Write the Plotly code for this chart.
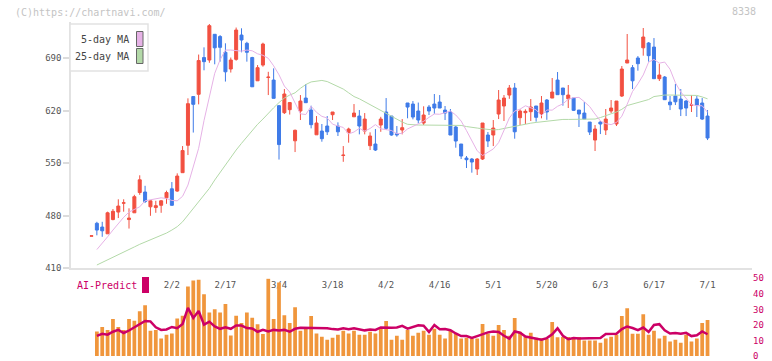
import plotly.graph_objects as go

# ---------------- data ----------------
idx = list(range(116))
opens = [452.8,470,465,456,475,485,496.8,475,484,511,511.7,492,491,494,504,516,513,537.5,574,639,
         642,691,687.7,722,719,698,675.7,688.6,721,710,691,660,681,664.4,661,626.8,617.5,621.5,580,619.7,
         637,621,588,593,599.7,614.8,599.7,560.4,590.8,612,613,593,573.5,575.7,601,618.4,613,589.5,594.4,630.4,
         629,619.7,603.7,625,629,631.7,621,618.4,598.4,575.7,557,555.7,542.4,555.7,587.7,587.7,615.7,626.4,641,650.4,
         610.8,617.5,618.8,626.4,615.7,634.4,637,661,650.4,636,637,621,617,605,581,605,594.4,619.7,602.4,639.7,
         683.7,677.5,690.4,704,710.4,705,662.8,665,631.7,639.7,635.7,633,627.4,635.7,630.4,613]
highs = [453.3,472,472,485.5,489,502,502,490,508,534,520,501,500,501,513.5,525,536.6,573,636.6,639,
         695,704.6,735.7,722,721,710,691,731,730,712,692,681,710.8,672,676.6,627.7,649,631,595,641,
         655.7,626.8,613,602.4,613,618.4,604.6,573,597.5,629,621,617,591.3,595.7,612,637,613,599.7,609,630.4,
         633,631,626,627.7,642.4,641,626.4,622.4,599.7,575.7,559.7,557,557,603.7,591.7,607.7,647.7,641,654.4,657,
         622,622,635.7,626.4,639.7,635.7,663.7,671.7,650.4,654.4,637,621,631.7,605,601,606.4,622.4,634.4,633,679.7,
         722.4,681,693,730.4,711.7,717,682.8,666.4,639.7,655.7,649,634.4,641,639.7,637,621]
lows = [452.8,454,452,456,474,477,485.5,463,484,508,497,480,484,484,496,493.5,512,537.5,561,591,
        628.6,674,684,682,685.5,659,671,686.8,698,685.5,652,660,678.8,641,636.6,555,615.7,615,565,607.7,
        630.8,596.6,588,578.8,587.7,607.7,586.4,552,577.5,612,588.6,588.6,567.7,566.4,592,594.4,586.8,585.5,588.6,610,
        608.6,603.3,601,614.4,616,623.7,607.7,587.7,570.8,555.7,543.7,537.5,534.4,554.4,571.7,573,609,606.4,636,582.8,
        601,602.4,606.4,605.5,610,608,637,641.5,626.8,623.7,619.7,598.4,609,587.7,566.4,589,587.7,617,599.7,638.4,
        683.7,649,673.5,693.5,685.5,662.8,659.7,634.4,621,627.7,613,613,618.4,611.7,607.7,581]
closes = [453.3,461,460,484,486,493,497.3,477,505.5,528,499,500,493.5,500,511,494,533,567,629.5,628.6,
          687,685.5,733.5,704,704.6,672,687.7,727.7,714.4,698,652,677.5,709,664.9,636.6,575,642.4,631,594,633,
          630.8,601.5,603.7,582.8,592,618.4,592,560.9,595.7,617,599.7,609,586.4,567.7,609,596.6,587.7,588,597.5,625,
          611.7,607.7,614.4,619.7,623.7,623.7,617,587.7,579.7,559.7,554.8,551.7,555.7,603.7,579.7,597,634.4,637,650.4,592,
          619.7,619.3,625,611.3,630.4,618.4,645,641.5,641.5,641,620.6,615.7,609,591.7,595.7,602.4,609,623.7,633,675.7,
          687.7,660,682.8,718.4,693.5,662.8,667.7,634.8,628,632,622.4,623.7,627.9,627.7,609,583.7]

ma5 = [None,435,443,452,461,470,478,485,488,492,500,501.5,502,504,503,500.5,500,506,521,547,
       570,607,640,670,688,701,701,700,699.5,701,700,696,694,690,680,668,653,645,630,616,
       615,626,618,612.6,610.4,602.2,599.7,597.8,589.2,591.7,596.7,593,596.4,601.6,596,594.4,593.7,589.5,589.8,595.8,
       599,602,606,611.3,615.7,615.4,617.8,619.7,614.4,606.4,593.6,579.8,566.7,560.3,565.1,569.1,577.6,594.1,610.4,619.7,
       622.2,626.7,623.7,621.3,613.5,621.1,620.9,626,629.3,635.4,637.5,637.9,632.1,625.6,615.6,606.5,602.9,601.6,604.5,612.8,
       628.8,645.8,656,667.8,684.9,688.5,683.5,685,675.4,657.4,645.1,637,628.2,626.8,626.7,618]
ma25 = [None,414.4,418,421.5,425,428,431.5,435,438.5,442,445,447.5,450,453,457,461,465.5,472,481,490,
        499.7,507.7,516.6,527.7,538,547,557.5,567.7,576.6,585.5,594,602,609,617,624,631,637,641,644,650,
        655,658.5,660,660.5,659,656,653,649,644,639,636,632,629,625,620,616,613,609,605,602,
        601,601,601,601,601,601,601,601,601,600.5,599,597.5,597,596,595,594.5,595,596.5,598,600,
        601.5,602.5,603.5,604.5,605.5,606.5,607,608,608.5,608.5,608.5,608.5,608.5,608.5,609,611,614,616,618.5,622,
        627,629,630.5,632,635,639,640.5,641,641,641,641,641,641,640.5,638.5,636]

sub_idx = list(range(1, 116))
bars = [15.8,18.7,16.8,23.8,18.7,16.8,23.8,22.7,28.8,32.6,16.2,16.8,11.2,13.7,14.5,24.2,25.9,44.8,48.6,49,
        39.7,28,30.1,28,33.4,13.2,25.9,21.3,28,24.6,20.4,14.1,49.7,23.8,47.3,26.3,21.3,31.4,16.2,17.5,
        25.8,14.5,12.4,10.5,11.8,13.7,16.2,14.5,16.2,13.7,13.7,15.6,14.5,17.5,22.5,10.5,13.1,10.5,16.8,13.1,
        15,16.2,13.7,17.5,13.7,11.2,16.2,14.5,11.2,11.8,11.2,11.2,20.6,14.5,13.1,20,16.8,13.1,24.4,15.6,
        12.4,15,11.8,11.5,11,21.9,12,12.2,12.2,12.2,12.2,9.9,9.9,9.9,8.6,11.2,12.4,13.7,25.7,30.7,
        14.3,14.3,26.9,13.7,16.2,11.2,13.1,9.3,10.5,8.6,13.7,9.3,11.2,21.3,23.2]
ai_pred = [13,14.3,13.7,15.6,16.8,14.8,16.4,18.5,20.6,22.5,22.3,18.5,16.8,17.1,18.7,17.9,20.6,31,24.5,29,
           20.2,22.1,19,17.5,18.5,17.5,19.6,19.6,18,17.7,15.6,16.8,15.8,16.8,16.4,16.8,15.6,17.5,18.1,18.1,
           18.1,18.1,18.1,17.9,17.3,17,17.9,17.3,17.8,17.2,16.5,17,16.8,18.4,18.1,18.1,18.3,19.4,17.6,18.6,
           19.8,19.5,15.5,20,17.2,17.4,16.6,14.5,12.8,12.8,11.6,12.8,14,15.2,15.8,15.5,13,11.2,15.8,15,
           12.5,11.8,11.5,10.5,11.5,14,17.8,13,10.8,11.6,11.2,11.2,11.2,11.3,11.6,14.2,14.3,14.3,17.3,19,
           18,16.6,18.3,15.5,20,20.5,16.5,14.5,14.8,14.3,14.9,12.8,13.3,15.8,14]

tick_pos = [15, 25, 35, 45, 55, 65, 75, 85, 95, 105, 115]
tick_text = ["2/2", "2/17", "3/4", "3/18", "4/2", "4/16", "5/1", "5/20", "6/3", "6/17", "7/1"]
price_ticks = [410, 480, 550, 620, 690]
sub_ticks = [0, 10, 20, 30, 40, 50]

# ---------------- styling ----------------
RED = "#f25041"
BLUE = "#3f7be8"
PINK = "#e6b2e6"
GREEN = "#b3d9a8"
ORANGE = "#f0963c"
CRIMSON = "#cc0066"
MONO = "DejaVu Sans Mono"

W, H = 772, 361
L, R, T, B = 71, 20, 22, 5
pw, ph = W - L - R, H - T - B

def px(x):
    return (x - L) / pw

def py(y):
    return (H - B - y) / ph

fig = go.Figure()
fig.add_trace(go.Scatter(x=idx, y=ma25, mode="lines", line=dict(color=GREEN, width=1),
                         xaxis="x", yaxis="y", hoverinfo="skip"))
fig.add_trace(go.Scatter(x=idx, y=ma5, mode="lines", line=dict(color=PINK, width=1),
                         xaxis="x", yaxis="y", hoverinfo="skip"))
fig.add_trace(go.Candlestick(x=idx, open=opens, high=highs, low=lows, close=closes,
                             increasing=dict(line=dict(color=RED, width=1), fillcolor=RED),
                             decreasing=dict(line=dict(color=BLUE, width=1), fillcolor=BLUE),
                             whiskerwidth=0, xaxis="x", yaxis="y"))
fig.add_trace(go.Bar(x=sub_idx, y=bars, marker=dict(color=ORANGE, line=dict(width=0)),
                     xaxis="x2", yaxis="y2"))
fig.add_trace(go.Scatter(x=sub_idx, y=ai_pred, mode="lines", line=dict(color=CRIMSON, width=2.5),
                         xaxis="x2", yaxis="y2"))

xr = [-3.83, 123.3]
main_bottom = py(268.3)
sub_top = py(278.3)

fig.update_layout(
    width=W, height=H,
    margin=dict(l=L, r=R, t=T, b=B, autoexpand=False),
    paper_bgcolor="white", plot_bgcolor="white",
    showlegend=False,
    bargap=0.3,
    boxgap=0.2,
    font=dict(family=MONO, size=9, color="#555"),
    xaxis=dict(domain=[0, 1], range=xr, anchor="y", showgrid=False, zeroline=False, automargin=False,
               showline=True, linecolor="#e2e2e2", linewidth=1.5,
               tickmode="array", tickvals=tick_pos, ticktext=tick_text, ticks="",
               ticklabelstandoff=7, tickfont=dict(family=MONO, size=9, color="#555"),
               rangeslider=dict(visible=False)),
    xaxis2=dict(domain=[0, 1], range=xr, anchor="y2", matches="x", visible=False, automargin=False),
    xaxis3=dict(overlaying="x", anchor="y", range=[0, 11], tickmode="array", automargin=False,
                tickvals=list(range(1, 12)), ticks="outside", ticklen=5, tickcolor="#dcdcdc",
                tickwidth=1.5, showticklabels=False, showline=False, showgrid=False, zeroline=False),
    yaxis=dict(domain=[main_bottom, 1], range=[410, 738.4], anchor="x", showgrid=False, zeroline=False,
               showline=True, linecolor="#e2e2e2", linewidth=1.5, automargin=False,
               tickmode="array", tickvals=price_ticks, ticks="outside", ticklen=6, tickcolor="#dcdcdc",
               tickwidth=1.5, tickfont=dict(family=MONO, size=9, color="#555")),
    yaxis2=dict(domain=[0, sub_top], range=[0, 50], anchor="x2", side="right", showgrid=False,
                zeroline=False, showline=False, tickmode="array", tickvals=sub_ticks, ticks="",
                automargin=False, ticklabeloverflow="allow",
                tickfont=dict(family=MONO, size=9, color=CRIMSON)),
)

shapes = [
    dict(type="rect", xref="paper", yref="paper", x0=px(70), x1=px(148), y0=py(71), y1=py(24),
         fillcolor="white", line=dict(color="#e2e2e2", width=1.5), layer="above"),
    dict(type="rect", xref="paper", yref="paper", x0=px(136.5), x1=px(143), y0=py(46.5), y1=py(31.5),
         fillcolor=PINK, line=dict(color="#666", width=1), layer="above"),
    dict(type="rect", xref="paper", yref="paper", x0=px(136.5), x1=px(143), y0=py(63.5), y1=py(48.5),
         fillcolor=GREEN, line=dict(color="#666", width=1), layer="above"),
    dict(type="rect", xref="paper", yref="paper", x0=px(142), x1=px(149), y0=py(293), y1=py(277),
         fillcolor=CRIMSON, line=dict(width=0), layer="above"),
]
annos = [
    dict(text="5-day MA", x=px(131), y=py(39.5), xanchor="right", yanchor="middle"),
    dict(text="25-day MA", x=px(131), y=py(56), xanchor="right", yanchor="middle"),
]
ann = []
for a in annos:
    a.update(xref="paper", yref="paper", showarrow=False, font=dict(family=MONO, size=10, color="#444"))
    ann.append(a)
ann.append(dict(text="AI-Predict", x=px(75), y=py(285.5), xref="paper", yref="paper", xanchor="left",
                yanchor="middle", showarrow=False, font=dict(family=MONO, size=10, color=CRIMSON)))
ann.append(dict(text="(C)https://chartnavi.com/", x=px(13), y=py(12.5), xref="paper", yref="paper",
                xanchor="left", yanchor="middle", showarrow=False,
                font=dict(family=MONO, size=10, color="#c4c4c4")))
ann.append(dict(text="8338", x=px(758), y=py(11.5), xref="paper", yref="paper", xanchor="right",
                yanchor="middle", showarrow=False, font=dict(family=MONO, size=10, color="#c4c4c4")))
fig.update_layout(shapes=shapes, annotations=ann)

fig.write_html("out.html")
